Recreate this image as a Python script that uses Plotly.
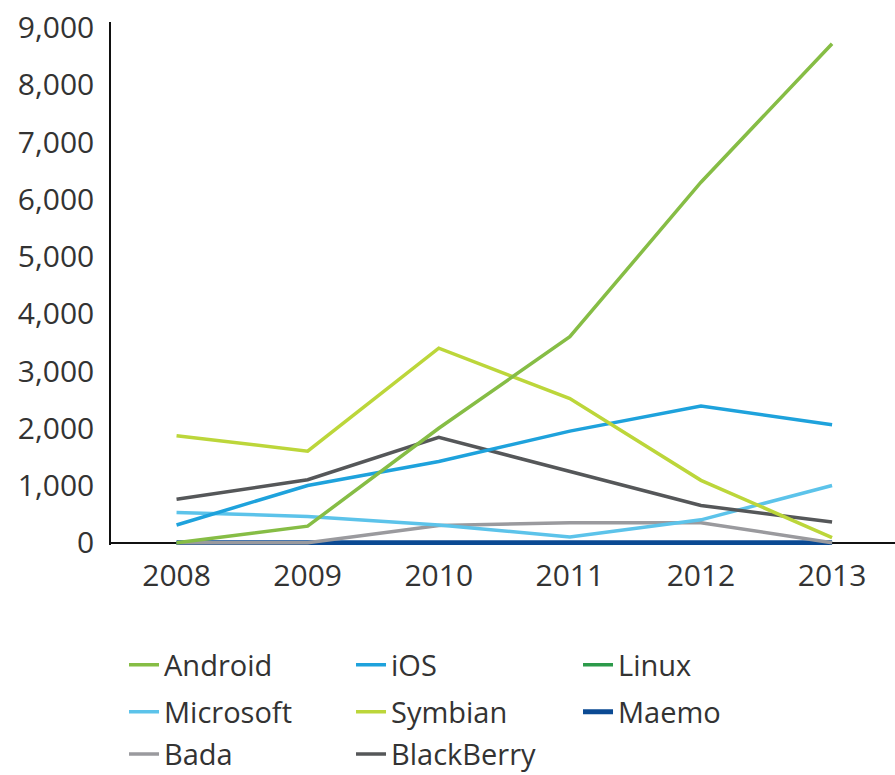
import plotly.graph_objects as go

years = [2008, 2009, 2010, 2011, 2012, 2013]
y_ticks = [0, 1000, 2000, 3000, 4000, 5000, 6000, 7000, 8000, 9000]

android = [0, 290, 2000, 3600, 6300, 8720]
ios = [310, 1000, 1420, 1950, 2390, 2060]
linux = [0, 0, 0, 0, 0, 0]
microsoft = [530, 460, 310, 100, 400, 1000]
symbian = [1870, 1600, 3400, 2520, 1090, 90]
maemo = [0, 0, 0, 0, 0, 0]
bada = [0, 0, 300, 350, 350, 0]
blackberry = [760, 1100, 1840, 1250, 650, 360]

series = [
    # name, values, color, width, legend, rank
    ("Linux", linux, "#2c9a4a", 3.5, "legend", 3),
    ("Maemo", maemo, "#0b4a93", 5, "legend2", 3),
    ("Bada", bada, "#9a9a9e", 3.5, "legend3", 1),
    ("Microsoft", microsoft, "#5cc3ea", 3.5, "legend2", 1),
    ("BlackBerry", blackberry, "#555759", 3.5, "legend3", 2),
    ("iOS", ios, "#1ea2dc", 3.5, "legend", 2),
    ("Symbian", symbian, "#bcd63a", 3.5, "legend2", 2),
    ("Android", android, "#86bd45", 3.5, "legend", 1),
]

fig = go.Figure()
for name, vals, color, w, leg, rank in series:
    fig.add_trace(go.Scatter(
        x=years, y=vals, name=name, mode="lines",
        line=dict(color=color, width=w),
        legend=leg, legendrank=rank,
    ))

font_family = "Open Sans, sans-serif"
text_color = "#333333"
leg_common = dict(
    orientation="h", xanchor="left", yanchor="middle",
    font=dict(family=font_family, size=29, color=text_color),
    entrywidth=182, entrywidthmode="pixels",
    bgcolor="rgba(0,0,0,0)", itemwidth=30,
)

fig.update_layout(
    width=895, height=775,
    margin=dict(l=111, r=0, t=22, b=230, autoexpand=False),
    paper_bgcolor="white", plot_bgcolor="white",
    font=dict(family=font_family, color=text_color),
    xaxis=dict(
        range=[2007.5, 2013.48], tickvals=years, ticktext=[str(y) for y in years],
        showgrid=False, zeroline=False, showline=False, ticks="",
        tickfont=dict(size=30, color=text_color), ticklabelstandoff=10,
        ticklabeloverflow="allow",
    ),
    yaxis=dict(
        range=[-40, 9100], tickvals=y_ticks, tickformat=",",
        showgrid=False, zeroline=True, zerolinecolor="#111111", zerolinewidth=1.5,
        showline=True, linecolor="#111111", linewidth=1.5, ticks="",
        tickfont=dict(size=30, color=text_color), ticklabelstandoff=9,
        ticklabeloverflow="allow",
    ),
    legend=dict(x=0.0166, y=-0.2294, **leg_common),
    legend2=dict(x=0.0166, y=-0.3193, **leg_common),
    legend3=dict(x=0.0166, y=-0.3997, **leg_common),
)

fig.write_html(
    "out.html",
    config={"displayModeBar": False},
    post_script="document.body.style.margin='0';document.body.style.overflow='hidden';",
)
